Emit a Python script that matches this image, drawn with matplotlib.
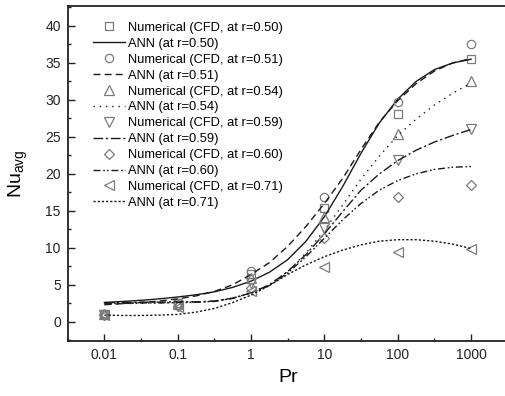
import matplotlib
matplotlib.use("Agg")
import matplotlib.pyplot as plt
from matplotlib.ticker import LogLocator, MultipleLocator, FixedLocator, FixedFormatter

plt.rcParams["font.family"] = ["Liberation Sans", "DejaVu Sans"]
plt.rcParams["mathtext.default"] = "regular"

# CFD points
pr_cfd = [0.01, 0.1, 1, 10, 100, 1000]
cfd_050 = [1.0, 2.6, 6.4, 15.4, 28.1, 35.5]
cfd_051 = [1.0, 2.5, 6.8, 16.9, 29.7, 37.6]
cfd_054 = [1.0, 2.4, 5.9, 14.2, 25.4, 32.5]
cfd_059 = [0.9, 2.2, 5.3, 12.7, 21.9, 26.1]
cfd_060 = [0.9, 2.1, 4.6, 11.3, 16.9, 18.5]
cfd_071 = [0.9, 2.0, 4.2, 7.4, 9.4, 9.9]

# ANN curves, read at quarter decades
pr_ann = [0.01, 0.0178, 0.0316, 0.0562, 0.1, 0.178, 0.316, 0.562, 1, 1.78, 3.16,
          5.62, 10, 17.8, 31.6, 56.2, 100, 178, 316, 562, 1000]
ann_050 = [2.6, 2.75, 2.9, 3.1, 3.35, 3.65, 4.05, 4.65, 5.5, 6.7, 8.4,
           10.9, 14.2, 18.3, 22.8, 26.9, 30.1, 32.5, 34.1, 35.0, 35.5]
ann_051 = [2.3, 2.45, 2.6, 2.8, 3.1, 3.5, 4.1, 5.0, 6.4, 8.0, 10.2,
           12.9, 16.0, 19.4, 23.3, 27.0, 29.9, 32.2, 33.9, 35.0, 35.6]
ann_054 = [2.4, 2.45, 2.5, 2.55, 2.6, 2.65, 2.8, 3.2, 3.9, 5.0, 6.8,
           9.3, 12.4, 15.8, 19.3, 22.4, 25.2, 27.4, 29.3, 30.9, 32.3]
ann_059 = [2.6, 2.6, 2.65, 2.65, 2.7, 2.7, 2.8, 3.2, 3.9, 5.0, 6.8,
           9.1, 11.9, 14.9, 17.8, 20.0, 21.8, 23.2, 24.3, 25.2, 26.0]
ann_060 = [2.5, 2.5, 2.55, 2.55, 2.6, 2.65, 2.75, 3.15, 3.9, 4.9, 6.6,
           8.8, 11.3, 13.8, 16.0, 17.8, 19.1, 20.0, 20.6, 20.9, 21.0]
ann_071 = [0.9, 0.85, 0.85, 0.9, 1.0, 1.3, 1.8, 2.6, 3.6, 4.9, 6.4,
           7.7, 8.8, 9.7, 10.4, 10.9, 11.1, 11.1, 10.9, 10.5, 9.9]

radii = ["0.50", "0.51", "0.54", "0.59", "0.60", "0.71"]
cfd_sets = [cfd_050, cfd_051, cfd_054, cfd_059, cfd_060, cfd_071]
ann_sets = [ann_050, ann_051, ann_054, ann_059, ann_060, ann_071]
markers = ["s", "o", "^", "v", "D", "<"]
msizes = [5.5, 6, 6.5, 6.5, 5, 6.5]
styles = ["-", (0, (5, 3)), (0, (1, 3.5)), (0, (7, 2, 1.5, 2)),
          (0, (5, 2, 1.2, 1.5, 1.2, 2)), (0, (1.6, 1.4))]

fig = plt.figure(figsize=(5.06, 3.96), dpi=100)
ax = fig.add_axes([0.1338, 0.1389, 0.8696, 0.8459])

mk_color = "#7a7a7a"
for r, c, a, m, ms, ls in zip(radii, cfd_sets, ann_sets, markers, msizes, styles):
    ax.plot(pr_cfd, c, linestyle="none", marker=m, ms=ms, mfc="none",
            mec=mk_color, mew=0.9, label=f"Numerical (CFD, at r={r})")
    ax.plot(pr_ann, a, linestyle=ls, color="#1a1a1a", lw=1.0,
            label=f"ANN (at r={r})")

ax.set_xscale("log")
ax.set_xlim(10 ** -2.5, 10 ** 3.5)
ax.set_ylim(-2.6, 42.7)

ax.xaxis.set_major_locator(FixedLocator(pr_cfd))
ax.xaxis.set_major_formatter(FixedFormatter(["0.01", "0.1", "1", "10", "100", "1000"]))
ax.xaxis.set_minor_locator(LogLocator(base=10, subs=(10 ** 0.5,)))
ax.yaxis.set_major_locator(MultipleLocator(5))
ax.yaxis.set_minor_locator(MultipleLocator(2.5))

ax.tick_params(which="both", direction="in", colors="#222222", labelsize=10,
               top=False, right=False)
ax.tick_params(which="major", length=5, width=1.0, pad=5)
ax.tick_params(which="minor", length=2.5, width=1.0)
for s in ax.spines.values():
    s.set_linewidth(1.3)
    s.set_color("#222222")

ax.set_xlabel("Pr", fontsize=14, labelpad=5)
ax.set_ylabel("Nu$_{avg}$", fontsize=14, labelpad=11)

ax.legend(loc="upper left", bbox_to_anchor=(0.04, 0.976), frameon=False,
          fontsize=9.3, handlelength=2.5, handletextpad=0.2,
          labelspacing=0.3, borderaxespad=0.2)

plt.savefig("out.png", dpi=100)
